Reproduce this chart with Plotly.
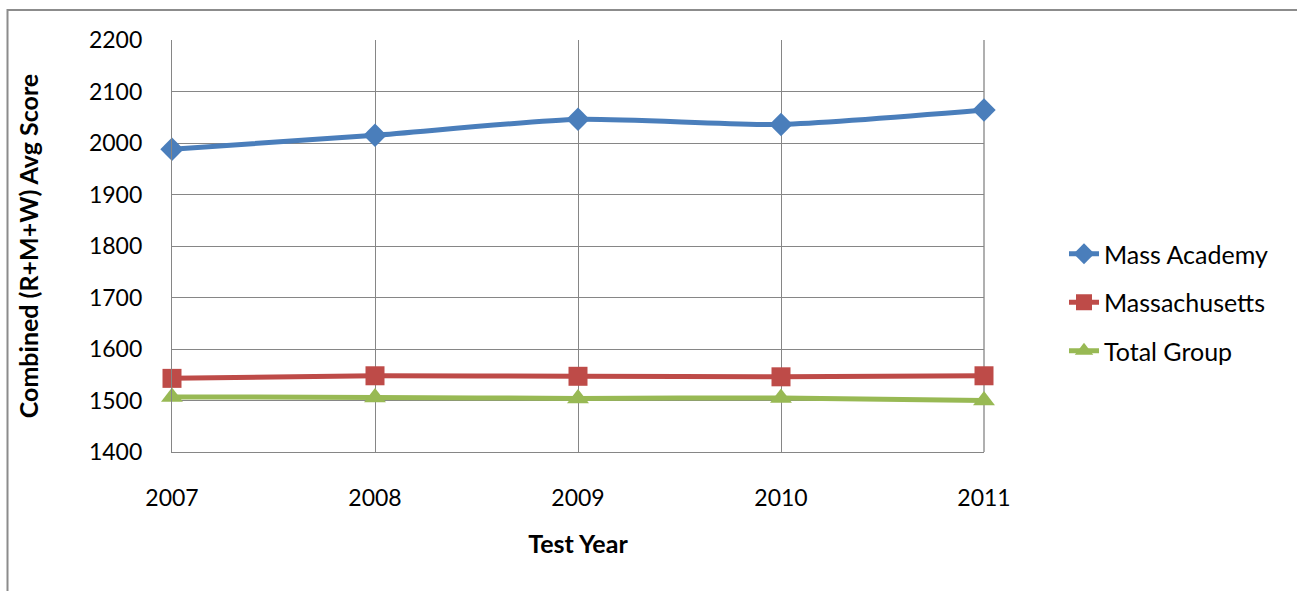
import plotly.graph_objects as go

years = [2007, 2008, 2009, 2010, 2011]
mass_academy = [1988, 2015, 2046, 2036, 2064]
massachusetts = [1543, 1548, 1547, 1546, 1548]
total_group = [1507, 1506, 1504, 1505, 1500]

series = [
    ("Mass Academy", mass_academy, "#4A7EBB", "diamond", 18),
    ("Massachusetts", massachusetts, "#BE4B48", "square", 19),
    ("Total Group", total_group, "#98B954", "triangle-up", 19),
]

FONT = "Lato"
fig = go.Figure()
for i, (name, vals, col, sym, sz) in enumerate(series):
    fig.add_trace(go.Scatter(
        x=years, y=vals, name=name, mode="lines+markers",
        line=dict(color=col, width=5, shape="spline", smoothing=0.6),
        marker=dict(symbol=sym, size=sz, color=col),
        legendgroup=f"g{i}", cliponaxis=False,
    ))

L, R, T, B = 172, 313, 40, 139
W, H = 1297, 591
pw, ph = W - L - R, H - T - B

def px(x):
    return (x - L) / pw

def py(y):
    return (H - B - y) / ph

fig.update_layout(
    width=W, height=H,
    margin=dict(l=L, r=R, t=T, b=B),
    paper_bgcolor="white", plot_bgcolor="white",
    font=dict(family=FONT, size=23, color="black"),
    showlegend=True,
    legend=dict(x=px(1064), y=py(231), xanchor="left", yanchor="top",
                font=dict(family=FONT, size=25, color="black"),
                tracegroupgap=13, bgcolor="rgba(0,0,0,0)"),
    xaxis=dict(range=[2007, 2011], tickmode="array", tickvals=years,
               ticktext=[str(y) for y in years],
               showgrid=True, gridcolor="#868686", gridwidth=1.3,
               showline=True, linecolor="#868686", linewidth=1.3, mirror=False,
               zeroline=False, ticks="", ticklabelstandoff=25,
               tickfont=dict(family=FONT, size=23),
               title=dict(text="<b>Test Year</b>", font=dict(family=FONT, size=25), standoff=25)),
    yaxis=dict(range=[1400, 2200], dtick=100, tick0=1400,
               showgrid=True, gridcolor="#868686", gridwidth=1.3,
               showline=True, linecolor="#868686", linewidth=1.3,
               zeroline=False, ticks="", ticklabelstandoff=24,
               tickfont=dict(family=FONT, size=23),
               title=dict(text="<b>Combined (R+M+W) Avg Score</b>", font=dict(family=FONT, size=25), standoff=43)),
)

# right plot border (as in reference) and outer chart border
fig.add_shape(type="line", xref="paper", yref="paper", x0=1, x1=1, y0=0, y1=1,
              line=dict(color="#868686", width=1.3), layer="below")
fig.add_shape(type="rect", xref="paper", yref="paper",
              x0=px(7.5), x1=px(1310), y0=py(10), y1=py(610),
              line=dict(color="#8C8C8C", width=2), layer="below")

fig.write_html("out.html", config={"displayModeBar": False},
               post_script="document.body.style.margin='0';")
